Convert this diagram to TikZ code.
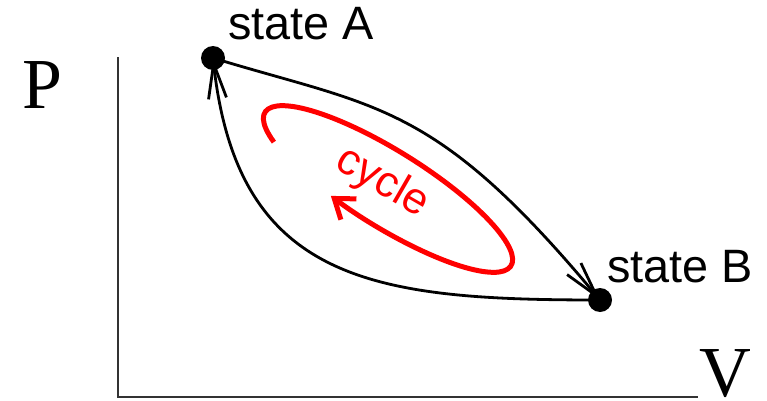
\documentclass[tikz,border=0pt]{standalone}
\usepackage{fontspec}
\setmainfont{Liberation Serif}
\setsansfont{Liberation Sans}
\usetikzlibrary{arrows.meta}
\begin{document}
\begin{tikzpicture}[x=1bp,y=1bp,
  dot/.style={circle,fill=black,minimum size=24bp,inner sep=0pt},
  curve/.style={line width=2.8bp,-{Straight Barb[length=35bp,width=18bp]}},
  axisline/.style={line width=2bp,draw=black!80},
  lbl/.style={font=\sffamily\fontsize{47}{47}\selectfont,inner sep=0pt,anchor=base west},
  axlbl/.style={font=\rmfamily\fontsize{72}{72}\selectfont,inner sep=0pt,anchor=base},
  cyc/.style={red,line width=5bp,-{Straight Barb[length=18bp,width=26bp]}}]
\useasboundingbox (0,0) rectangle (767,400);
% axes
\coordinate (O) at (118,3);
\coordinate (ytop) at (118,343);
\coordinate (xend) at (698,3);
\draw[axisline] (ytop) -- (O) -- (xend);
\node[axlbl] (P) at (42,292) {P};
\node[axlbl] (V) at (725,4) {V};
% states
\node[dot] (A) at (213,342) {};
\node[dot] (B) at (600,100) {};
\node[lbl] (sA) at (228,361) {state A};
\node[lbl] (sB) at (607,118) {state B};
% process curves
\draw[curve] (A.center) .. controls (377,292) and (434,299) .. (B.center);
\draw[curve] (B.center) .. controls (375,100) and (238,117) .. (A.center);
% cycle arrow
\begin{scope}[shift={(388,211)},rotate=-32]
\draw[cyc] (213:145 and 38) arc[start angle=213,end angle=-108,x radius=145,y radius=38];
\end{scope}
\node[red,font=\sffamily\fontsize{44}{44}\selectfont,rotate=-30,inner sep=0pt] (cycle) at (382,217) {cycle};
\end{tikzpicture}
\end{document}
